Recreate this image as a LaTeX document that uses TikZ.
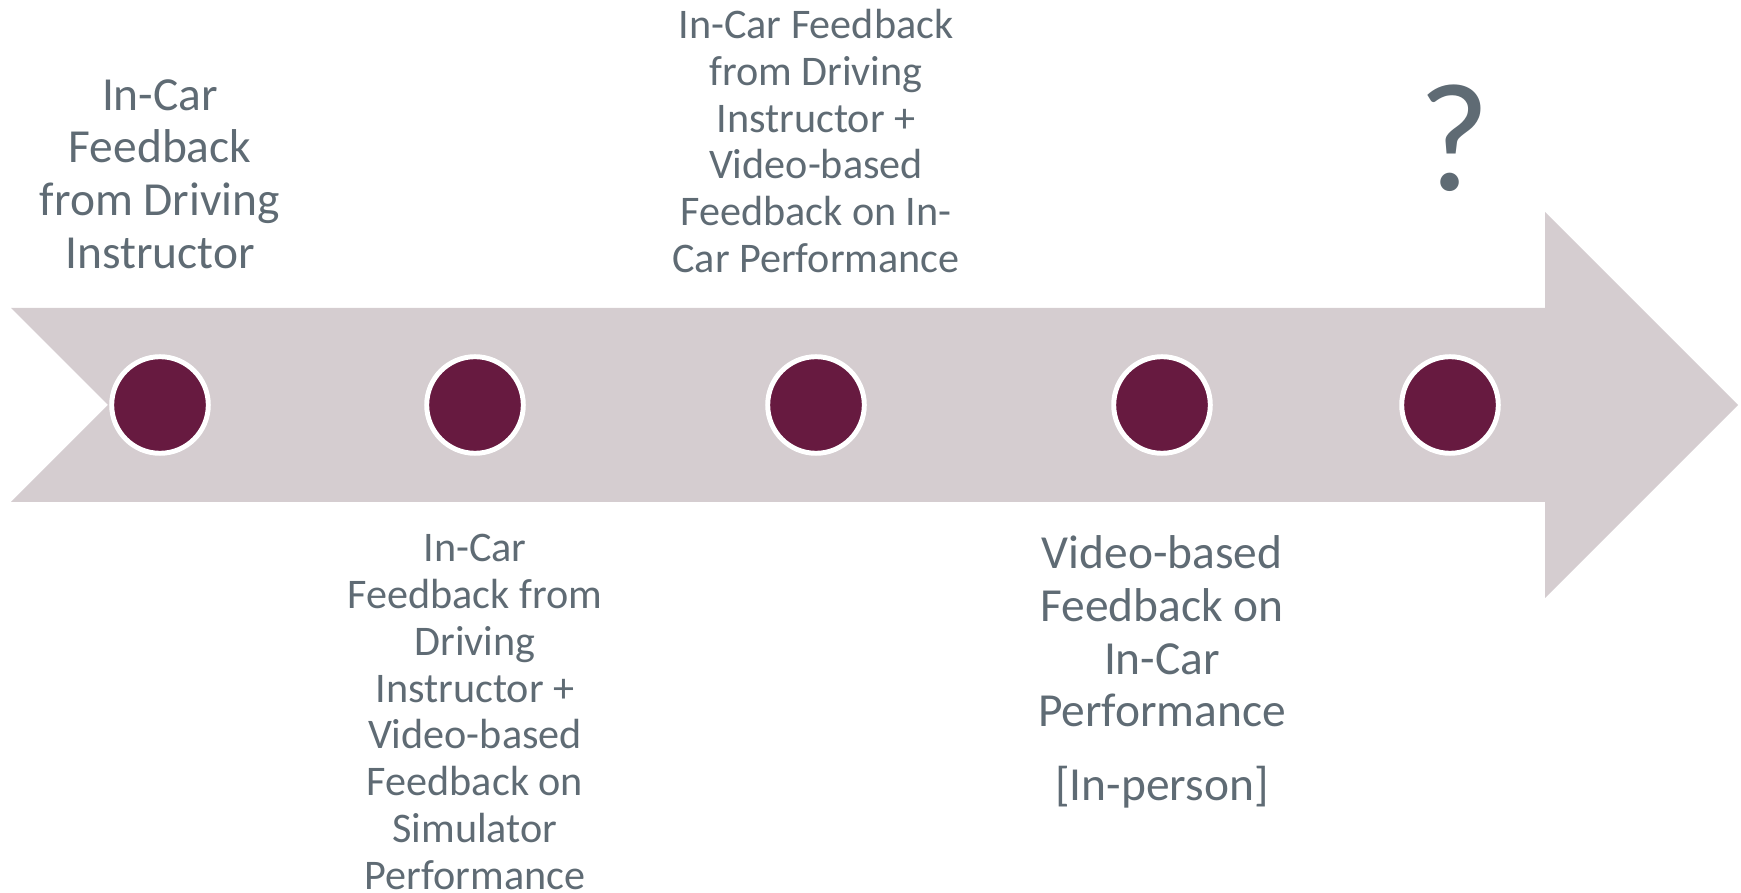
\documentclass[tikz,border=0pt]{standalone}
\usepackage{fontspec}
\setmainfont{Carlito}
\usepackage{xcolor}
\definecolor{arrowgray}{RGB}{213,205,208}
\definecolor{dotred}{RGB}{103,26,64}
\definecolor{textgray}{RGB}{95,107,116}

\begin{document}
\begin{tikzpicture}[
    big/.style={align=center, text=textgray, inner sep=0pt, font=\fontsize{13.5}{15}\selectfont},
    small/.style={align=center, text=textgray, inner sep=0pt, font=\fontsize{12}{13.3}\selectfont},
    dot/.style={circle, fill=dotred, draw=white, line width=1.4pt, inner sep=0pt, minimum size=9.66mm}]
  \useasboundingbox (0,0) rectangle (17.41,8.92);
  \fill[arrowgray] (0.11,5.84) -- (15.45,5.84) -- (15.45,6.80) -- (17.38,4.87) -- (15.45,2.94) -- (15.45,3.90) -- (0.11,3.90) -- (1.08,4.87) -- cycle;

  \node[dot] (1) at (1.60,4.87) {};
  \node[dot] (2) at (4.75,4.87) {};
  \node[dot] (3) at (8.16,4.87) {};
  \node[dot] (4) at (11.62,4.87) {};
  \node[dot] (5) at (14.50,4.87) {};

  \node[big] (t1) at (1.60,7.18) {In-Car\\Feedback\\from Driving\\Instructor};
  \node[small] (t2) at (4.75,1.80) {In-Car\\Feedback from\\Driving\\Instructor +\\Video-based\\Feedback on\\Simulator\\Performance};
  \node[small] (t3) at (8.16,7.51) {In-Car Feedback\\from Driving\\Instructor +\\Video-based\\Feedback on In-\\Car Performance};
  \node[big] (t4) at (11.62,2.20) {Video-based\\Feedback on\\In-Car\\Performance\\[6pt]{[In-person]}};
  \node[text=textgray, inner sep=0pt, font=\fontsize{44}{50}\selectfont, anchor=base] (t5) at (14.54,7.01) {?};
\end{tikzpicture}
\end{document}
